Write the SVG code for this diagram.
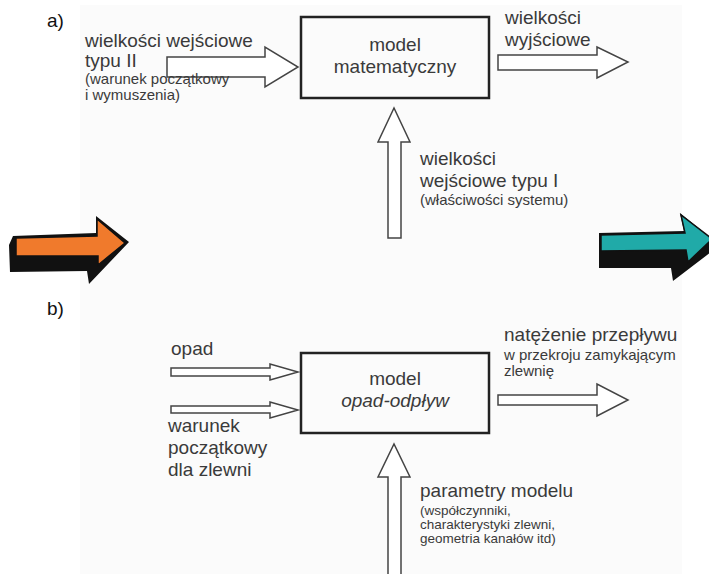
<svg xmlns="http://www.w3.org/2000/svg" width="709" height="574" viewBox="0 0 709 574">
<defs>
<style>
.t{font-family:"Liberation Sans",Arial,sans-serif;font-size:19px;fill:#3a3a3a}
.s{font-family:"Liberation Sans",Arial,sans-serif;font-size:15px;fill:#3a3a3a}
.xs{font-family:"Liberation Sans",Arial,sans-serif;font-size:13.5px;fill:#3a3a3a}
.lbl{font-family:"Liberation Sans",Arial,sans-serif;font-size:19px;fill:#111}
.box{fill:none;stroke:#222;stroke-width:2.5}
.arr{fill:#fff;stroke:#444;stroke-width:1.5;stroke-linejoin:miter}
.c{text-anchor:middle}
</style>
<clipPath id="clipR"><rect x="0" y="0" width="683" height="574"/></clipPath>
</defs>
<rect x="0" y="0" width="709" height="574" fill="#fff"/>
<rect x="80" y="5" width="602" height="569" fill="#fbfbfb"/>

<text class="lbl" x="47" y="27">a)</text>
<text class="lbl" x="47" y="315">b)</text>

<g id="connectors">
<polygon class="arr" points="167,57 265,57 265,47 298,67 265,87 265,77 167,77"/>
<polygon class="arr" points="498,55 597,55 597,47 628,62 597,78 597,70 498,70"/>
<polygon class="arr" points="388,238 388,142 378,142 394,108 410,142 401,142 401,238"/>
<polygon class="arr" points="171,368 270,368 270,364 298,372 270,380 270,376 171,376"/>
<polygon class="arr" points="171,406 270,406 270,402 298,410 270,418 270,413 171,413"/>
<polygon class="arr" points="498,395 597,395 597,384 628,400 597,416 597,405 498,405"/>
<polygon class="arr" points="388,576 388,477 378,477 394,444 410,477 401,477 401,576"/>
</g>

<g id="model-a">
<rect class="box" x="301" y="17" width="188" height="81"/>
<text class="t c" x="395" y="51">model</text>
<text class="t c" x="395" y="73">matematyczny</text>
</g>

<g id="input-II">
<text class="t" x="85" y="47">wielkości wejściowe</text>
<text class="t" x="85" y="67">typu II</text>
<text class="s" x="85" y="84">(warunek początkowy</text>
<text class="s" x="85" y="100">i wymuszenia)</text>
</g>

<g id="output-a">
<text class="t" x="505" y="24">wielkości</text>
<text class="t" x="505" y="46">wyjściowe</text>
</g>

<g id="input-I">
<text class="t" x="420" y="165">wielkości</text>
<text class="t" x="420" y="187">wejściowe typu I</text>
<text class="s" x="420" y="205">(właściwości systemu)</text>
</g>

<g id="orange-arrow">
<polygon points="13,236 96,233 96,216 129,242 89,284 87,271 10,272 9,245" fill="#111"/>
<polygon points="16,238 97,236 97,219 125,243 98,265 98,256 16,256" fill="#f07a2c" stroke="#111" stroke-width="1.5"/>
</g>

<g id="teal-arrow">
<polygon points="599,233 684,231 680,213 711,238 711,252 673,281 671,268 599,268" fill="#111"/>
<polygon points="601,235 685,233 681,215 711,238 711,240 688,262 686,250 601,251" fill="#20aaa8" stroke="#111" stroke-width="1.5"/>
</g>

<g id="model-b">
<rect class="box" x="301" y="353" width="188" height="80"/>
<text class="t c" x="395" y="385">model</text>
<text class="t c" x="395" y="407" font-style="italic">opad-odpływ</text>
</g>

<g id="opad">
<text class="t" x="171" y="355">opad</text>
</g>

<g id="warunek">
<text class="t" x="168" y="432">warunek</text>
<text class="t" x="168" y="454">początkowy</text>
<text class="t" x="168" y="476">dla zlewni</text>
</g>

<g id="output-b" clip-path="url(#clipR)">
<text class="t" x="504" y="341">natężenie przepływu</text>
<text class="s" x="504" y="360">w przekroju zamykającym</text>
<text class="s" x="504" y="376">zlewnię</text>
</g>

<g id="parametry">
<text class="t" x="420" y="497">parametry modelu</text>
<text class="xs" x="420" y="515">(współczynniki,</text>
<text class="xs" x="420" y="529">charakterystyki zlewni,</text>
<text class="xs" x="420" y="543">geometria kanałów itd)</text>
</g>
</svg>
